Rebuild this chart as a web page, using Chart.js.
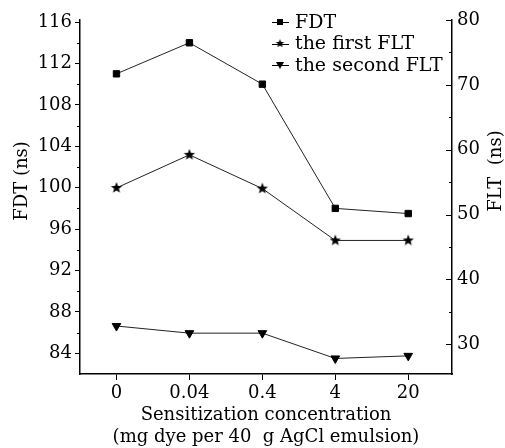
<!DOCTYPE html>
<html>
<head>
<meta charset="utf-8">
<script src="https://cdn.jsdelivr.net/npm/chart.js@4.4.1/dist/chart.umd.min.js"></script>
<style>
  html, body { margin: 0; padding: 0; background: #fff; }
</style>
</head>
<body>
<canvas id="chart" width="505" height="448"></canvas>
<script>
// data
var concentrations = ['0', '0.04', '0.4', '4', '20'];
var fdt = [111, 114, 110, 98, 97.5];
var firstFlt = [54.1, 59.2, 54.0, 46.0, 46.0];
var secondFlt = [32.8, 31.7, 31.7, 27.8, 28.2];
var fdtTicks = [84, 88, 92, 96, 100, 104, 108, 112, 116];
var fltTicks = [30, 40, 50, 60, 70, 80];

var serif = "'DejaVu Serif', serif";

function toPoints(arr) {
    return arr.map(function(v, i) { return {x: i, y: v}; });
}

// filled five point star for the first FLT
function makeStar(r) {
    var c = document.createElement('canvas');
    var s = Math.ceil(r * 2) + 2;
    c.width = s; c.height = s;
    var g = c.getContext('2d');
    g.fillStyle = '#000';
    g.beginPath();
    for (var i = 0; i < 10; i++) {
        var rad = (i % 2 === 0) ? r : r * 0.42;
        var a = -Math.PI / 2 + i * Math.PI / 5;
        var px = s / 2 + rad * Math.cos(a);
        var py = s / 2 + rad * Math.sin(a);
        if (i === 0) g.moveTo(px, py); else g.lineTo(px, py);
    }
    g.closePath();
    g.fill();
    return c;
}
var starBig = makeStar(6);
var starSmall = makeStar(4.5);

// minor ticks, inward ticks of the right axis, y titles and legend
var extras = {
    id: 'extras',
    afterDraw: function(chart) {
        var ctx = chart.ctx;
        var yl = chart.scales.y;
        var yr = chart.scales.y2;
        var area = chart.chartArea;
        ctx.save();
        ctx.strokeStyle = '#000';
        ctx.lineWidth = 1;
        ctx.beginPath();
        for (var v = 86; v < 116; v += 4) {
            var py = Math.round(yl.getPixelForValue(v)) + 0.5;
            ctx.moveTo(area.left - 3, py);
            ctx.lineTo(area.left, py);
        }
        for (var i = 0; i < fltTicks.length; i++) {
            var py2 = Math.round(yr.getPixelForValue(fltTicks[i])) + 0.5;
            ctx.moveTo(area.right - 6, py2);
            ctx.lineTo(area.right, py2);
        }
        for (var m = 35; m < 80; m += 10) {
            var py3 = Math.round(yr.getPixelForValue(m)) + 0.5;
            ctx.moveTo(area.right - 3, py3);
            ctx.lineTo(area.right, py3);
        }
        ctx.stroke();

        ctx.fillStyle = '#000';
        ctx.font = '18px ' + serif;
        ctx.textAlign = 'center';
        ctx.textBaseline = 'middle';
        ctx.save();
        ctx.translate(22, 181);
        ctx.rotate(-Math.PI / 2);
        ctx.fillText('FDT (ns)', 0, 0);
        ctx.restore();
        ctx.save();
        ctx.translate(496, 171);
        ctx.rotate(-Math.PI / 2);
        ctx.fillText('FLT  (ns)', 0, 0);
        ctx.restore();

        // legend
        var rows = [
            {label: 'FDT', y: 22, kind: 'rect'},
            {label: 'the first FLT', y: 43.5, kind: 'star'},
            {label: 'the second FLT', y: 65, kind: 'tri'}
        ];
        ctx.textAlign = 'left';
        ctx.font = '19px ' + serif;
        rows.forEach(function(r) {
            ctx.beginPath();
            ctx.moveTo(272, Math.round(r.y) + 0.5);
            ctx.lineTo(289, Math.round(r.y) + 0.5);
            ctx.stroke();
            if (r.kind === 'rect') {
                ctx.fillRect(277, r.y - 3, 6, 6);
            } else if (r.kind === 'star') {
                ctx.drawImage(starSmall, 280 - starSmall.width / 2, r.y - starSmall.height / 2);
            } else {
                ctx.beginPath();
                ctx.moveTo(276, r.y - 3);
                ctx.lineTo(284, r.y - 3);
                ctx.lineTo(280, r.y + 4);
                ctx.closePath();
                ctx.fill();
            }
            ctx.fillText(r.label, 295, r.y + 1);
        });
        ctx.restore();
    }
};

var lineStyle = {
    borderColor: '#222',
    borderWidth: 1,
    pointBackgroundColor: '#000',
    pointBorderColor: '#000',
    pointBorderWidth: 1,
    tension: 0,
    fill: false
};

new Chart(document.getElementById('chart'), {
    type: 'line',
    data: {
        datasets: [
            Object.assign({label: 'FDT', data: toPoints(fdt), yAxisID: 'y',
                pointStyle: 'rect', pointRadius: 4.5}, lineStyle),
            Object.assign({label: 'the first FLT', data: toPoints(firstFlt), yAxisID: 'y2',
                pointStyle: starBig, pointRadius: 6}, lineStyle),
            Object.assign({label: 'the second FLT', data: toPoints(secondFlt), yAxisID: 'y2',
                pointStyle: 'triangle', pointRotation: 180, pointRadius: 5}, lineStyle)
        ]
    },
    options: {
        responsive: false,
        animation: false,
        layout: {padding: {top: 20, left: 0, right: 0, bottom: 0}},
        plugins: {legend: {display: false}, tooltip: {enabled: false}},
        scales: {
            x: {
                type: 'linear',
                min: -0.5,
                max: 4.6,
                afterBuildTicks: function(scale) {
                    scale.ticks = concentrations.map(function(c, i) { return {value: i}; });
                },
                afterFit: function(scale) { scale.height = 74; },
                border: {display: true, color: '#000', width: 1.5},
                grid: {drawOnChartArea: false, drawTicks: true, tickLength: 6, color: '#000'},
                ticks: {
                    color: '#000',
                    font: {family: serif, size: 18},
                    padding: 3,
                    maxRotation: 0,
                    callback: function(v) { return concentrations[v]; }
                },
                title: {
                    display: true,
                    text: ['Sensitization concentration', '(mg dye per 40  g AgCl emulsion)'],
                    color: '#000',
                    font: {family: serif, size: 18, lineHeight: 1.2},
                    padding: {top: 0, bottom: 0}
                }
            },
            y: {
                position: 'left',
                min: 82,
                max: 116.2,
                afterBuildTicks: function(scale) {
                    scale.ticks = fdtTicks.map(function(v) { return {value: v}; });
                },
                afterFit: function(scale) { scale.width = 80; },
                border: {display: true, color: '#000', width: 1.5},
                grid: {drawOnChartArea: false, drawTicks: true, tickLength: 5, color: '#000'},
                ticks: {color: '#000', font: {family: serif, size: 18}, padding: 3}
            },
            y2: {
                position: 'right',
                min: 25.4,
                max: 80,
                afterBuildTicks: function(scale) {
                    scale.ticks = fltTicks.map(function(v) { return {value: v}; });
                },
                afterFit: function(scale) { scale.width = 53; },
                border: {display: true, color: '#000', width: 1.5},
                grid: {drawOnChartArea: false, drawTicks: false},
                ticks: {color: '#000', font: {family: serif, size: 18}, padding: 5}
            }
        }
    },
    plugins: [extras]
});
</script>
</body>
</html>
